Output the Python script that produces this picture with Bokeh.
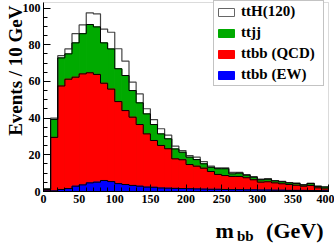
import numpy as np
from math import pi
from bokeh.plotting import figure
from bokeh.models import (Label, Legend, LegendItem, FixedTicker, Range1d,
                          BoxAnnotation)
from bokeh.embed import file_html
from bokeh.resources import INLINE

# ---- data (events per 10 GeV bin) ----
bin_edges = list(range(0, 410, 10))
ttbb_ew = [0.3, 0.3, 1.1, 1.6, 2.9, 3.6, 4.7, 5.1, 6.0, 5.4,
           4.3, 3.8, 3.3, 2.9, 2.4, 2.3, 1.9, 1.8, 1.7, 1.6,
           1.5, 1.4, 1.3, 1.2, 1.2, 1.1, 1.0, 1.0, 0.9, 0.9,
           0.8, 0.8, 0.7, 0.7, 0.6, 0.6, 0.6, 0.5, 0.5, 0.4]
ttbb_qcd = [0.7, 29.2, 56.4, 59.6, 59.4, 60.5, 60.0, 58.7, 53.0, 50.4,
            44.7, 40.3, 37.2, 33.6, 29.0, 25.5, 23.2, 21.5, 16.1, 15.7,
            13.2, 12.4, 11.4, 9.7, 8.1, 7.6, 7.2, 7.2, 6.6, 5.5,
            4.3, 4.5, 4.0, 3.5, 3.2, 2.8, 2.3, 2.8, 1.5, 1.0]
ttjj = [0.3, 9.8, 15.3, 13.8, 18.7, 21.9, 26.3, 25.9, 22.0, 21.9,
        17.9, 19.1, 14.5, 11.8, 10.9, 8.7, 6.3, 5.4, 5.4, 4.1,
        4.0, 3.6, 2.4, 2.3, 3.1, 3.7, 1.4, 1.8, 1.4, 1.4,
        1.3, 1.4, 1.1, 1.1, 0.9, 1.0, 0.7, 1.1, 0.8, 1.0]
tth120 = [0.2, 0.7, 1.2, 2.7, 5.0, 4.8, 6.4, 7.1, 7.5, 9.1,
          10.9, 7.8, 4.6, 4.9, 2.8, 2.7, 2.8, 2.0, 1.5, 0.9,
          0.9, 1.3, 1.2, 0.6, 0.5, 0.5, 0.8, 0.4, 0.3, 0.3,
          0.3, 0.3, 0.2, 0.2, 0.2, 0.2, 0.2, 0.1, 0.2, 0.2]
legend_labels = ["ttH(120)", "ttjj", "ttbb (QCD)", "ttbb (EW)"]
x_ticks = [0, 50, 100, 150, 200, 250, 300, 350, 400]
y_ticks = [0, 20, 40, 60, 80, 100]
X_MIN, X_MAX = 0, 400
Y_MIN, Y_MAX = 0, 103

# ---- styles / geometry ----
GREEN = "#00aa00"
RED = "#ff0000"
BLUE = "#0000ff"
SERIF = "Liberation Serif"
W, H = 334, 243          # canvas size
OX, OY = 0, 0            # canvas position on the page
FX0, FX1 = 43, 328       # page x of X_MIN / X_MAX
FY0, FY1 = 191, 2        # page y of Y_MIN / Y_MAX
sx = (FX1 - FX0) / (X_MAX - X_MIN)
sy = (FY0 - FY1) / (Y_MAX - Y_MIN)


def dx(px):  # page x -> data x
    return X_MIN + (px - FX0) / sx


def dy(py):  # page y -> data y
    return Y_MIN + (FY0 - py) / sy


lo = np.array(bin_edges[:-1], dtype=float)
hi = np.array(bin_edges[1:], dtype=float)
s_ew = np.array(ttbb_ew)
s_qcd = s_ew + np.array(ttbb_qcd)
s_jj = s_qcd + np.array(ttjj)
s_tth = s_jj + np.array(tth120)

p = figure(width=W, height=H,
           x_range=Range1d(dx(OX), dx(OX + W)),
           y_range=Range1d(dy(OY + H), dy(OY)),
           output_backend="svg", toolbar_location=None,
           min_border=0, min_border_left=0, min_border_right=0,
           min_border_top=0, min_border_bottom=0)
p.background_fill_color = "white"
p.border_fill_color = "white"
p.outline_line_color = None
p.xgrid.visible = False
p.ygrid.visible = False

# frame box (top/right visible in grey)
p.add_layout(BoxAnnotation(left=X_MIN, right=X_MAX, bottom=Y_MIN, top=Y_MAX,
                           fill_color=None, line_color="#888888",
                           line_width=1, level="underlay"))

stack = [(s_tth, "white", "#444444", 1.2),
         (s_jj, GREEN, "black", 1.0),
         (s_qcd, RED, "black", 1.0),
         (s_ew, BLUE, "black", 1.0)]
for tops, col, _, _ in stack:
    p.quad(left=lo, right=hi, bottom=0, top=tops, fill_color=col,
           line_color=col, line_width=1)
for tops, _, lc, lw in stack:
    p.step(x=bin_edges, y=list(tops) + [tops[-1]], mode="after",
           line_color=lc, line_width=lw)

# legend (hidden copies that carry the swatch style)
items = []
for lab, (tops, fc, _, _), lc in zip(legend_labels, stack,
                                     ["#666666", GREEN, RED, BLUE]):
    r = p.quad(left=lo, right=hi, bottom=0, top=tops, fill_color=fc,
               line_color=lc, line_width=1, visible=False)
    items.append(LegendItem(label=lab, renderers=[r]))
PAD, ROW, SP = 2, 17, 4
leg_h = 2 * PAD + len(items) * ROW + (len(items) - 1) * SP
legend = Legend(items=items,
                location=(213 - OX, (OY + H) - FY1 - leg_h),
                margin=0, padding=PAD, spacing=SP, glyph_width=20,
                glyph_height=10, label_height=ROW, label_width=80,
                label_standoff=5, border_line_color="#888888",
                border_line_width=1, background_fill_color="white",
                background_fill_alpha=1.0, label_text_font=SERIF,
                label_text_font_style="bold", label_text_font_size="15px",
                label_text_color="black")
p.add_layout(legend)

# axes drawn at the data origin
p.xaxis.fixed_location = Y_MIN
p.yaxis.fixed_location = X_MIN
p.xaxis.bounds = (X_MIN, X_MAX)
p.yaxis.bounds = (Y_MIN, Y_MAX)
p.xaxis.ticker = FixedTicker(ticks=x_ticks, minor_ticks=list(range(0, 401, 10)))
p.yaxis.ticker = FixedTicker(ticks=y_ticks, minor_ticks=list(range(0, 104, 5)))
for ax in (p.xaxis[0], p.yaxis[0]):
    ax.axis_line_color = "black"
    ax.major_tick_line_color = "black"
    ax.minor_tick_line_color = "black"
    ax.major_tick_in = 7
    ax.major_tick_out = 0
    ax.minor_tick_in = 4
    ax.minor_tick_out = 0
    ax.major_label_text_font = SERIF
    ax.major_label_text_font_style = "bold"
    ax.major_label_text_font_size = "12px"
    ax.major_label_text_color = "black"
p.xaxis.major_label_standoff = 3
p.yaxis.major_label_standoff = 3

# axis titles
p.add_layout(Label(x=dx(15), y=dy(5), text="Events / 10 GeV", angle=pi / 2,
                   text_align="right", text_baseline="alphabetic",
                   text_font=SERIF, text_font_style="bold",
                   text_font_size="19px", text_color="black"))
p.add_layout(Label(x=dx(215), y=dy(230), text="m", text_align="left",
                   text_baseline="alphabetic", text_font=SERIF,
                   text_font_style="bold", text_font_size="22px",
                   text_color="black"))
p.add_layout(Label(x=dx(236.5), y=dy(235), text="bb", text_align="left",
                   text_baseline="alphabetic", text_font=SERIF,
                   text_font_style="bold", text_font_size="15px",
                   text_color="black"))
p.add_layout(Label(x=dx(323), y=dy(230), text="(GeV)", text_align="right",
                   text_baseline="alphabetic", text_font=SERIF,
                   text_font_style="bold", text_font_size="22px",
                   text_color="black"))

open("out.html", "w").write(file_html(p, INLINE))
